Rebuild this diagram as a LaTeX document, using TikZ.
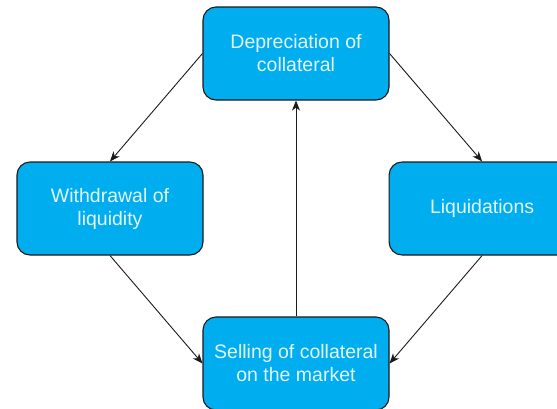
\documentclass[tikz,border=0pt]{standalone}
\usepackage{fontspec}
\setmainfont{Liberation Sans}
\usepackage{tikz}
\usetikzlibrary{arrows.meta,positioning}
\definecolor{boxblue}{HTML}{00AEEF}
\definecolor{boxline}{HTML}{1A1A1A}
\definecolor{boxtext}{HTML}{E4F5FD}

\begin{document}
\begin{tikzpicture}[
  x=1pt,y=-1pt,
  font=\fontsize{19.5}{23}\selectfont,
  box/.style={draw=boxline,line width=1.1pt,rounded corners=13pt,fill=boxblue,text=boxtext,align=center,minimum width=186pt,minimum height=93pt,inner sep=4pt},
  arr/.style={-{Stealth[length=10pt,width=8pt,inset=3pt]},line width=0.9pt,boxline}
]
\useasboundingbox (0,0) rectangle (557,408);
\clip (0,0) rectangle (557,408);
\node[box] (dep) at (296,53.5) {Depreciation of\\collateral};
\node[box] (wd) at (110,208.5) {Withdrawal of\\liquidity};
\node[box,right=185pt of wd] (liq) {Liquidations};
\node[box] (sell) at (296,363.5) {Selling of collateral\\on the market};
\foreach \x/\y in {dep.west/wd.north,dep.east/liq.north,wd.south/sell.west,liq.south/sell.east,sell.north/dep.south} \draw[arr] (\x) -- (\y);
\end{tikzpicture}
\end{document}
